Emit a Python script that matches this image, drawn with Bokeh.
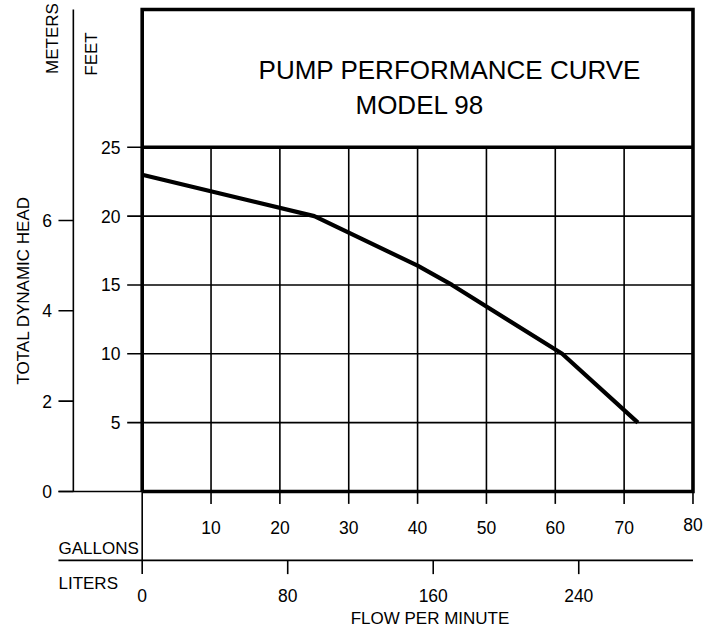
import math
from bokeh.plotting import figure
from bokeh.models import Range1d
from bokeh.core.properties import value
from bokeh.embed import file_html
from bokeh.resources import INLINE

# ---- data ----
flow_gpm = [0, 25, 40, 45, 61, 72]
head_ft = [23, 20, 16.4, 15, 10, 5]
gallon_ticks = [10, 20, 30, 40, 50, 60, 70, 80]
feet_ticks = [5, 10, 15, 20, 25]
meter_ticks = [0, 2, 4, 6]
liter_ticks = [0, 80, 160, 240]
title_lines = ["PUMP PERFORMANCE CURVE", "MODEL 98"]
FT_PER_M = 1 / 0.3048
L_PER_GAL = 3.785

X_MAX = 80
Y_GRID_MAX = 25
Y_TOP = 35

FONT = value("Liberation Sans")
INK = "#000000"

p = figure(width=711, height=628, output_backend="svg", toolbar_location=None,
           x_range=Range1d(-20.58, 82.69), y_range=Range1d(-9.949, 35.657),
           x_axis_type=None, y_axis_type=None, min_border=0,
           min_border_left=0, min_border_right=0, min_border_top=0, min_border_bottom=0)
p.outline_line_color = None
p.background_fill_color = "white"

thin = 1.6
# grid lines
vg = gallon_ticks[:-1]
p.segment(x0=vg, y0=[0] * len(vg), x1=vg, y1=[Y_GRID_MAX] * len(vg), line_color=INK, line_width=thin)
hg = feet_ticks[:-1]
p.segment(x0=[0] * len(hg), y0=hg, x1=[X_MAX] * len(hg), y1=hg, line_color=INK, line_width=thin)

# feet ticks (left of frame)
p.segment(x0=[-2.18] * len(feet_ticks), y0=feet_ticks, x1=[0] * len(feet_ticks), y1=feet_ticks,
          line_color=INK, line_width=thin)
# gallon ticks (below frame)
p.segment(x0=gallon_ticks, y0=[0] * len(gallon_ticks), x1=gallon_ticks, y1=[-0.9] * len(gallon_ticks),
          line_color=INK, line_width=thin)

# meters axis
p.segment(x0=[-10], y0=[0], x1=[-10], y1=[Y_TOP], line_color=INK, line_width=thin)
m_ft = [m * FT_PER_M for m in meter_ticks]
p.segment(x0=[-12.16] * len(m_ft), y0=m_ft, x1=[-10] * len(m_ft), y1=m_ft, line_color=INK, line_width=thin)
p.segment(x0=[-12.16], y0=[0], x1=[0], y1=[0], line_color=INK, line_width=thin)

# gallons / liters divider and liters ticks
p.segment(x0=[-12.16], y0=[-5], x1=[X_MAX], y1=[-5], line_color=INK, line_width=thin)
p.segment(x0=[0], y0=[0], x1=[0], y1=[-6], line_color=INK, line_width=thin)
l_g = [l / L_PER_GAL for l in liter_ticks[1:]]
p.segment(x0=l_g, y0=[-5] * len(l_g), x1=l_g, y1=[-6] * len(l_g), line_color=INK, line_width=thin)

# thick frame and header divider
p.line(x=[0, X_MAX, X_MAX, 0, 0], y=[0, 0, Y_TOP, Y_TOP, 0], line_color=INK, line_width=3.6,
       line_join="miter")
p.segment(x0=[0], y0=[Y_GRID_MAX], x1=[X_MAX], y1=[Y_GRID_MAX], line_color=INK, line_width=3.6)

# performance curve
p.line(x=flow_gpm, y=head_ft, line_color=INK, line_width=4.2, line_join="round")

# ---- texts ----
fs_tick = "17.5px"
fs = "17px"
p.text(x=[-3.15] * len(feet_ticks), y=feet_ticks, text=[str(v) for v in feet_ticks],
       text_font=FONT, text_font_size=fs_tick, text_align="right", text_baseline="middle", text_color=INK)
p.text(x=[-13.1] * len(meter_ticks), y=m_ft, text=[str(v) for v in meter_ticks],
       text_font=FONT, text_font_size=fs_tick, text_align="right", text_baseline="middle", text_color=INK)
p.text(x=gallon_ticks[:-1], y=[-2.58] * (len(gallon_ticks) - 1), text=[str(v) for v in gallon_ticks[:-1]],
       text_font=FONT, text_font_size=fs_tick, text_align="center", text_baseline="alphabetic", text_color=INK)
p.text(x=gallon_ticks[-1:], y=[-2.58], text=[str(gallon_ticks[-1])], y_offset=-3,
       text_font=FONT, text_font_size=fs_tick, text_align="center", text_baseline="alphabetic", text_color=INK)
p.text(x=[l / L_PER_GAL for l in liter_ticks], y=[-7.55] * len(liter_ticks), text=[str(v) for v in liter_ticks],
       text_font=FONT, text_font_size=fs_tick, text_align="center", text_baseline="alphabetic", text_color=INK)

p.text(x=[-12.16], y=[-4.16], text=["GALLONS"], text_font=FONT, text_font_size=fs,
       text_align="left", text_baseline="alphabetic", text_color=INK)
p.text(x=[-12.16], y=[-6.65], text=["LITERS"], text_font=FONT, text_font_size=fs,
       text_align="left", text_baseline="alphabetic", text_color=INK)
p.text(x=[41.8], y=[-9.2], text=["FLOW PER MINUTE"], text_font=FONT, text_font_size=fs,
       text_align="center", text_baseline="alphabetic", text_color=INK)

rot = math.pi / 2
p.text(x=[-12.96], y=[32.9], text=["METERS"], angle=rot, text_font=FONT, text_font_size=fs,
       text_align="center", text_baseline="middle", text_color=INK)
p.text(x=[-7.29], y=[31.77], text=["FEET"], angle=rot, text_font=FONT, text_font_size=fs,
       text_align="center", text_baseline="middle", text_color=INK)
p.text(x=[-17.31], y=[14.6], text=["TOTAL DYNAMIC HEAD"], angle=rot, text_font=FONT, text_font_size=fs,
       text_align="center", text_baseline="middle", text_color=INK)

p.text(x=[16.9, 30.98], y=[30.62, 28.05], text=title_lines, text_font=FONT, text_font_size="26px",
       text_align="left", text_baseline="alphabetic", text_color=INK)

open("out.html", "w").write(file_html(p, INLINE))
